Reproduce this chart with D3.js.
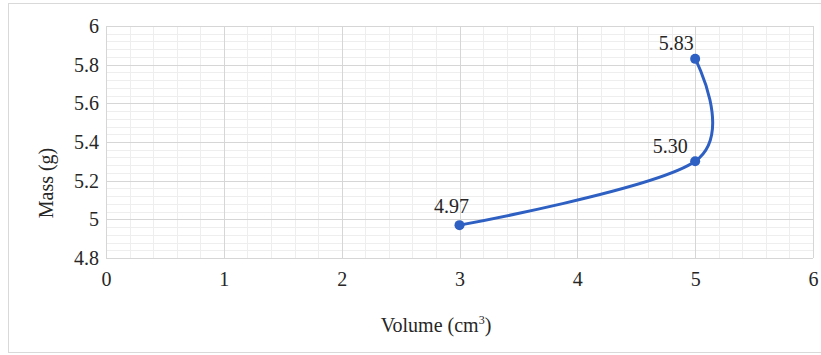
<!DOCTYPE html>
<html><head><meta charset="utf-8">
<script src="https://cdn.jsdelivr.net/npm/d3@7"></script>
<style>html,body{margin:0;padding:0;background:#fff}svg{display:block}
svg text{font-family:"Liberation Serif","Times New Roman",serif !important;}</style>
</head><body>
<svg id="chart" width="821" height="355"></svg>
<script>
const volumes = [3, 5, 5];
const masses = [4.97, 5.30, 5.83];
const labels = ["4.97", "5.30", "5.83"];
const xTicks = [0, 1, 2, 3, 4, 5, 6];
const xTickLabels = ["0", "1", "2", "3", "4", "5", "6"];
const yTicks = [4.8, 5, 5.2, 5.4, 5.6, 5.8, 6];
const yTickLabels = ["4.8", "5", "5.2", "5.4", "5.6", "5.8", "6"];
const labelShift = [[-8, -12], [-25, -8], [-19, -9]];

const svg = d3.select("#chart");
const fs = 20;
const m = {l: 106, r: 813, t: 26, b: 258};
const x = d3.scaleLinear().domain([0, 6]).range([m.l, m.r]);
const y = d3.scaleLinear().domain([4.8, 6]).range([m.b, m.t]);

svg.append("rect").attr("x", 8.5).attr("y", 3.5).attr("width", 830).attr("height", 349)
  .attr("fill", "#fff").attr("stroke", "#d9d9d9");

const g = svg.append("g");
const xMinor = d3.range(0, 30.5, 1).map(i => i * 0.2).filter((v, i) => i % 5 !== 0);
const yMinor = d3.range(0, 30.5, 1).map(i => 4.8 + i * 0.04).filter((v, i) => i % 5 !== 0);
g.selectAll(".xm").data(xMinor).join("line")
  .attr("x1", d => Math.round(x(d)) + 0.5).attr("x2", d => Math.round(x(d)) + 0.5)
  .attr("y1", m.t).attr("y2", m.b).attr("stroke", "#eeeeee").attr("stroke-width", 1);
g.selectAll(".ym").data(yMinor).join("line")
  .attr("y1", d => Math.round(y(d)) + 0.5).attr("y2", d => Math.round(y(d)) + 0.5)
  .attr("x1", m.l).attr("x2", m.r).attr("stroke", "#eeeeee").attr("stroke-width", 1);
g.selectAll(".xg").data(xTicks).join("line")
  .attr("x1", d => Math.round(x(d)) + 0.5).attr("x2", d => Math.round(x(d)) + 0.5)
  .attr("y1", m.t).attr("y2", m.b).attr("stroke", "#d6d6d6").attr("stroke-width", 1);
g.selectAll(".yg").data(yTicks).join("line")
  .attr("y1", d => Math.round(y(d)) + 0.5).attr("y2", d => Math.round(y(d)) + 0.5)
  .attr("x1", m.l).attr("x2", m.r).attr("stroke", "#d6d6d6").attr("stroke-width", 1);

const xAxis = d3.axisBottom(x).tickValues(xTicks).tickSize(0).tickPadding(14)
  .tickFormat((d, i) => xTickLabels[i]);
const xa = svg.append("g").attr("transform", `translate(0,${m.b})`).call(xAxis);
xa.select(".domain").remove();
xa.selectAll("text").style("font-size", fs + "px").attr("fill", "#262626");

const yAxis = d3.axisLeft(y).tickValues(yTicks).tickSize(0).tickPadding(7)
  .tickFormat((d, i) => yTickLabels[i]);
const ya = svg.append("g").attr("transform", `translate(${m.l},0)`).call(yAxis);
ya.select(".domain").remove();
ya.selectAll("text").style("font-size", fs + "px").attr("fill", "#262626");

const pts = volumes.map((v, i) => [x(v), y(masses[i])]);
svg.append("path").attr("d", d3.line().curve(d3.curveCardinal.tension(0))(pts))
  .attr("fill", "none").attr("stroke", "#2e5fc2").attr("stroke-width", 3);
svg.selectAll(".pt").data(pts).join("circle")
  .attr("cx", d => d[0]).attr("cy", d => d[1]).attr("r", 5).attr("fill", "#2e5fc2");

svg.selectAll(".lbl").data(pts).join("text")
  .attr("x", (d, i) => d[0] + labelShift[i][0]).attr("y", (d, i) => d[1] + labelShift[i][1])
  .attr("text-anchor", "middle").style("font-size", fs + "px").attr("fill", "#262626")
  .text((d, i) => labels[i]);

const xt = svg.append("text").attr("x", 436).attr("y", 332).attr("text-anchor", "middle")
  .style("font-size", fs + "px").attr("fill", "#262626");
xt.append("tspan").text("Volume (cm");
xt.append("tspan").text("3").style("font-size", "12px").attr("dy", -8);
xt.append("tspan").text(")").attr("dy", 8);

svg.append("text").attr("transform", "translate(53,183) rotate(-90)").attr("text-anchor", "middle")
  .style("font-size", fs + "px").attr("fill", "#262626").text("Mass (g)");
</script>
</body></html>
